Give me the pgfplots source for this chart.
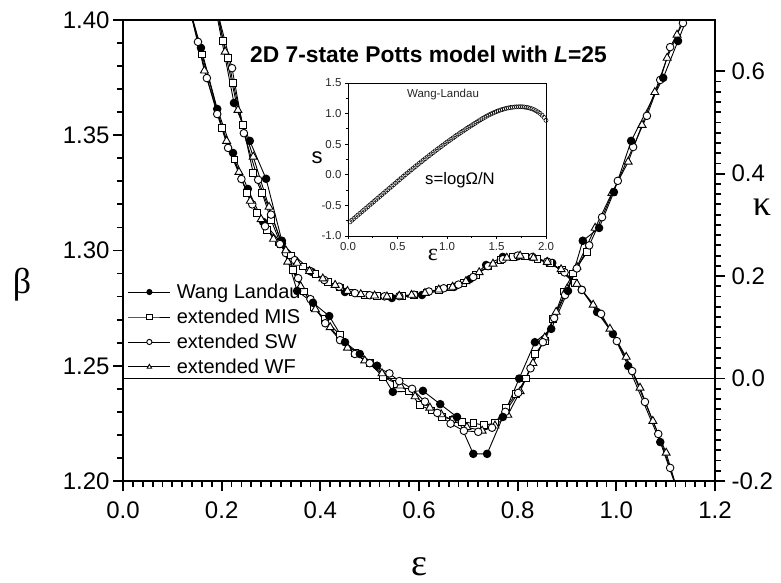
\documentclass[border=0pt]{standalone}
\usepackage{pgfplots}
\pgfplotsset{compat=1.18}
\usepackage{fontspec}
\setmainfont{Liberation Sans}
\newfontfamily\greekfont{Liberation Serif}

\pgfplotstableread{
e b
0.135 1.4050
0.158 1.3879
0.191 1.3614
0.223 1.3423
0.253 1.3267
0.284 1.3124
0.322 1.3030
0.383 1.2907
0.450 1.2820
0.545 1.2794
0.606 1.2807
0.671 1.2842
0.703 1.2876
0.736 1.2937
0.770 1.2972
0.800 1.2975
0.870 1.2946
0.930 1.2829
0.961 1.2733
0.993 1.2638
1.024 1.2499
1.089 1.2169
1.125 1.1950
}\wlbeta

\pgfplotstableread{
e b
0.135 1.405
0.160 1.385
0.201 1.3531
0.226 1.3395
0.251 1.3250
0.272 1.3163
0.292 1.3090
0.315 1.3035
0.340 1.2978
0.365 1.2930
0.390 1.2898
0.415 1.2863
0.440 1.2840
0.465 1.2818
0.490 1.2808
0.515 1.2804
0.540 1.2800
0.565 1.2803
0.590 1.2808
0.615 1.2818
0.640 1.2830
0.665 1.2840
0.690 1.2860
0.715 1.2895
0.740 1.2930
0.765 1.2958
0.790 1.2973
0.815 1.2974
0.840 1.2964
0.865 1.2946
0.890 1.2915
0.915 1.2860
}\misbeta

\pgfplotstableread{
e b
0.135 1.405
0.152 1.3905
0.170 1.3748
0.191 1.3592
0.213 1.3445
0.240 1.3310
0.262 1.3200
0.288 1.3105
0.318 1.3028
0.348 1.2958
0.378 1.2912
0.408 1.2872
0.438 1.2843
0.470 1.2815
0.500 1.2806
0.530 1.2801
0.560 1.2802
0.590 1.2808
0.620 1.2822
0.650 1.2836
0.680 1.2852
0.710 1.2885
0.740 1.2932
0.770 1.2962
0.800 1.2978
0.830 1.2972
0.860 1.2952
0.895 1.2905
0.930 1.2829
0.969 1.2725
1.001 1.2607
1.032 1.2477
1.058 1.2343
1.085 1.2204
1.109 1.2057
1.125 1.195
}\swbeta

\pgfplotstableread{
e b
0.135 1.405
0.165 1.378
0.210 1.3475
0.235 1.3340
0.258 1.3215
0.280 1.3135
0.305 1.3050
0.330 1.3000
0.353 1.2946
0.378 1.2910
0.405 1.2878
0.430 1.2850
0.455 1.2824
0.482 1.2810
0.510 1.2804
0.535 1.2800
0.560 1.2803
0.585 1.2807
0.612 1.2815
0.640 1.2830
0.668 1.2842
0.695 1.2866
0.722 1.2905
0.750 1.2942
0.778 1.2968
0.805 1.2977
0.832 1.2968
0.860 1.2950
0.888 1.2918
0.920 1.2855
0.953 1.2764
0.987 1.2660
1.020 1.2538
1.048 1.2404
1.074 1.2260
1.101 1.2122
1.125 1.195
}\wfbeta

\pgfplotstableread{
e k
0.180 0.760
0.225 0.538
0.257 0.464
0.290 0.390
0.322 0.269
0.353 0.171
0.385 0.148
0.418 0.122
0.450 0.071
0.480 0.048
0.515 0.025
0.547 -0.026
0.608 -0.024
0.643 -0.050
0.677 -0.075
0.710 -0.147
0.738 -0.147
0.770 -0.075
0.803 0.000
0.835 0.071
0.868 0.097
0.902 0.171
0.932 0.269
0.965 0.294
0.995 0.364
1.030 0.464
1.095 0.587
1.125 0.659
1.150 0.720
}\wlkappa

\pgfplotstableread{
e k
0.185 0.740
0.203 0.659
0.213 0.626
0.223 0.577
0.243 0.495
0.264 0.401
0.282 0.362
0.300 0.310
0.320 0.262
0.345 0.212
0.367 0.170
0.386 0.140
0.409 0.116
0.440 0.085
0.470 0.050
0.500 0.030
0.527 0.003
0.555 -0.010
0.580 -0.025
0.602 -0.052
0.625 -0.062
0.647 -0.075
0.668 -0.080
0.687 -0.085
0.710 -0.087
0.732 -0.091
0.754 -0.087
0.776 -0.057
0.797 -0.030
0.817 0.000
0.835 0.048
0.855 0.073
0.872 0.116
0.893 0.170
0.912 0.205
0.941 0.247
}\miskappa

\pgfplotstableread{
e k
0.185 0.740
0.221 0.606
0.245 0.479
0.274 0.388
0.300 0.320
0.330 0.245
0.355 0.196
0.380 0.155
0.410 0.108
0.440 0.075
0.470 0.048
0.500 0.030
0.540 0.010
0.560 -0.005
0.586 -0.020
0.612 -0.045
0.637 -0.067
0.664 -0.088
0.691 -0.102
0.720 -0.104
0.748 -0.096
0.775 -0.065
0.801 -0.028
0.826 0.020
0.851 0.071
0.874 0.118
0.896 0.163
0.920 0.215
0.945 0.260
0.971 0.315
1.003 0.386
1.034 0.452
1.062 0.513
1.089 0.583
1.109 0.647
1.135 0.694
1.150 0.740
}\swkappa

\pgfplotstableread{
e k
0.188 0.740
0.207 0.638
0.233 0.524
0.264 0.433
0.296 0.335
0.334 0.228
0.360 0.180
0.390 0.135
0.420 0.100
0.455 0.060
0.490 0.035
0.525 0.010
0.562 -0.014
0.592 -0.035
0.622 -0.057
0.645 -0.070
0.667 -0.081
0.697 -0.095
0.728 -0.102
0.754 -0.092
0.780 -0.071
0.805 -0.025
0.831 0.030
0.855 0.080
0.878 0.130
0.900 0.175
0.920 0.218
0.957 0.294
0.991 0.362
1.024 0.423
1.052 0.495
1.078 0.559
1.103 0.626
1.123 0.671
1.145 0.730
}\wfkappa

\pgfplotstableread{
e s
0.02 -0.769
0.04 -0.742
0.06 -0.714
0.08 -0.687
0.10 -0.659
0.12 -0.631
0.14 -0.604
0.16 -0.576
0.18 -0.549
0.20 -0.521
0.22 -0.493
0.24 -0.466
0.26 -0.438
0.28 -0.411
0.30 -0.383
0.32 -0.355
0.34 -0.328
0.36 -0.300
0.38 -0.273
0.40 -0.245
0.42 -0.217
0.44 -0.190
0.46 -0.162
0.48 -0.135
0.50 -0.107
0.52 -0.080
0.54 -0.052
0.56 -0.025
0.58 0.002
0.60 0.029
0.62 0.055
0.64 0.082
0.66 0.108
0.68 0.135
0.70 0.161
0.72 0.187
0.74 0.212
0.76 0.238
0.78 0.263
0.80 0.289
0.82 0.314
0.84 0.339
0.86 0.363
0.88 0.388
0.90 0.413
0.92 0.437
0.94 0.461
0.96 0.485
0.98 0.509
1.00 0.533
1.02 0.556
1.04 0.579
1.06 0.602
1.08 0.625
1.10 0.648
1.12 0.670
1.14 0.692
1.16 0.713
1.18 0.735
1.20 0.757
1.22 0.778
1.24 0.798
1.26 0.819
1.28 0.839
1.30 0.860
1.32 0.881
1.34 0.901
1.36 0.920
1.38 0.938
1.40 0.958
1.42 0.975
1.44 0.991
1.46 1.006
1.48 1.020
1.50 1.034
1.52 1.046
1.54 1.058
1.56 1.068
1.58 1.077
1.60 1.086
1.62 1.093
1.64 1.099
1.66 1.104
1.68 1.107
1.70 1.110
1.72 1.111
1.74 1.112
1.76 1.111
1.78 1.108
1.80 1.103
1.82 1.096
1.84 1.088
1.86 1.077
1.88 1.063
1.90 1.046
1.92 1.026
1.94 1.003
1.96 0.974
1.98 0.938
2.00 0.890
}\entropy

\begin{document}
\begin{tikzpicture}[x=1bp,y=1bp]
\path[use as bounding box] (-123,-102) rectangle (658,481);
\pgfplotsset{
  mainax/.style={
    scale only axis, width=592bp, height=461bp,
    at={(0,0)}, anchor=south west,
    xmin=0, xmax=1.2,
    tick align=outside,
    major tick length=10bp, minor tick length=6bp,
    axis line style={line width=2.8bp},
    tick style={black, line width=1.8bp},
    tick label style={font=\fontsize{24bp}{28bp}\selectfont},
    /pgf/number format/assume math mode=true,
    clip=true,
  },
  wl/.style={black, line width=0.9bp, mark=*, mark size=3.8bp, mark options={solid, fill=black}},
  mis/.style={black, line width=0.9bp, mark=square*, mark size=3.3bp, mark options={solid, fill=white}},
  sw/.style={black, line width=0.9bp, mark=*, mark size=3.8bp, mark options={solid, fill=white}},
  wf/.style={black, line width=0.9bp, mark=triangle*, mark size=4.6bp, mark options={solid, fill=white}},
}
% right axis: kappa
\begin{axis}[mainax,
  axis x line=none, axis y line*=right,
  ymin=-0.2, ymax=0.7,
  ytick={-0.2,0,0.2,0.4,0.6}, minor y tick num=9,
  yticklabel style={xshift=3bp, /pgf/number format/.cd, fixed, fixed zerofill, precision=1},
]
\addplot[black, line width=1.3bp, mark=none] coordinates {(0,0) (1.2,0)};
\addplot[mis] table[x=e,y=k] {\miskappa};
\addplot[wf] table[x=e,y=k] {\wfkappa};
\addplot[sw] table[x=e,y=k] {\swkappa};
\addplot[wl] table[x=e,y=k] {\wlkappa};
\end{axis}
% left axis: beta
\begin{axis}[mainax,
  ymin=1.2, ymax=1.4,
  xtick={0,0.2,...,1.2}, minor x tick num=9,
  ytick={1.20,1.25,1.30,1.35,1.40}, minor y tick num=4,
  xtick pos=bottom, ytick pos=left,
  xticklabel style={yshift=-7bp, /pgf/number format/.cd, fixed, fixed zerofill, precision=1},
  yticklabel style={/pgf/number format/.cd, fixed, fixed zerofill, precision=2},
  legend style={at={(0.008,0.432)}, anchor=north west, draw=none, fill=none,
    font=\fontsize{20bp}{22bp}\selectfont, row sep=5bp, column sep=4bp, inner sep=0pt},
  legend cell align=left,
  legend image code/.code={\draw[mark repeat=2,mark phase=2,#1,line width=0.9bp,mark size=2.6bp] plot coordinates {(0bp,0bp) (21bp,0bp) (42bp,0bp)};},
]
\addplot[wl] table[x=e,y=b] {\wlbeta};
\addlegendentry{Wang Landau}
\addplot[mis] table[x=e,y=b] {\misbeta};
\addlegendentry{extended MIS}
\addplot[sw] table[x=e,y=b] {\swbeta};
\addlegendentry{extended SW}
\addplot[wf] table[x=e,y=b] {\wfbeta};
\addlegendentry{extended WF}
\end{axis}
% inset
\begin{axis}[
  scale only axis, width=198bp, height=153bp,
  at={(225bp,245bp)}, anchor=south west,
  xmin=0, xmax=2, ymin=-1, ymax=1.5,
  xtick={0,0.5,...,2}, ytick={-1,-0.5,...,1.5},
  minor x tick num=1, minor y tick num=1,
  tick align=outside, major tick length=3bp, minor tick length=2bp,
  xtick pos=bottom, ytick pos=left,
  axis line style={line width=0.8bp},
  tick style={black, line width=0.8bp},
  axis background/.style={fill=white},
  tick label style={font=\fontsize{11.5bp}{13bp}\selectfont, text=black!85},
  /pgf/number format/assume math mode=true,
  xticklabel style={/pgf/number format/.cd, fixed, fixed zerofill, precision=1},
  yticklabel style={/pgf/number format/.cd, fixed, fixed zerofill, precision=1},
]
\addplot[only marks, mark=o, mark size=2.1bp, line width=0.5bp, black] table[x=e,y=s] {\entropy};
\end{axis}
% labels
\node[font=\fontsize{22.8bp}{26bp}\selectfont\bfseries, anchor=base] at (305.5,418) {2D 7-state Potts model with \textit{L}=25};
\node[font=\fontsize{36bp}{40bp}\greekfont] at (-101,196) {β};
\node[font=\fontsize{36bp}{40bp}\greekfont] at (639,274) {κ};
\node[font=\fontsize{38bp}{40bp}\greekfont, anchor=base, inner sep=0pt, text depth=0pt] at (296,-95) {ε};
\node[font=\fontsize{22bp}{26bp}\selectfont] at (194,323) {s};
\node[font=\fontsize{24bp}{26bp}\greekfont] at (310,226) {ε};
\node[font=\fontsize{11.5bp}{13bp}\selectfont, text=black!85] at (320,386) {Wang-Landau};
\node[font=\fontsize{16.7bp}{19bp}\selectfont] at (337,301) {s=logΩ/N};
\end{tikzpicture}
\end{document}
